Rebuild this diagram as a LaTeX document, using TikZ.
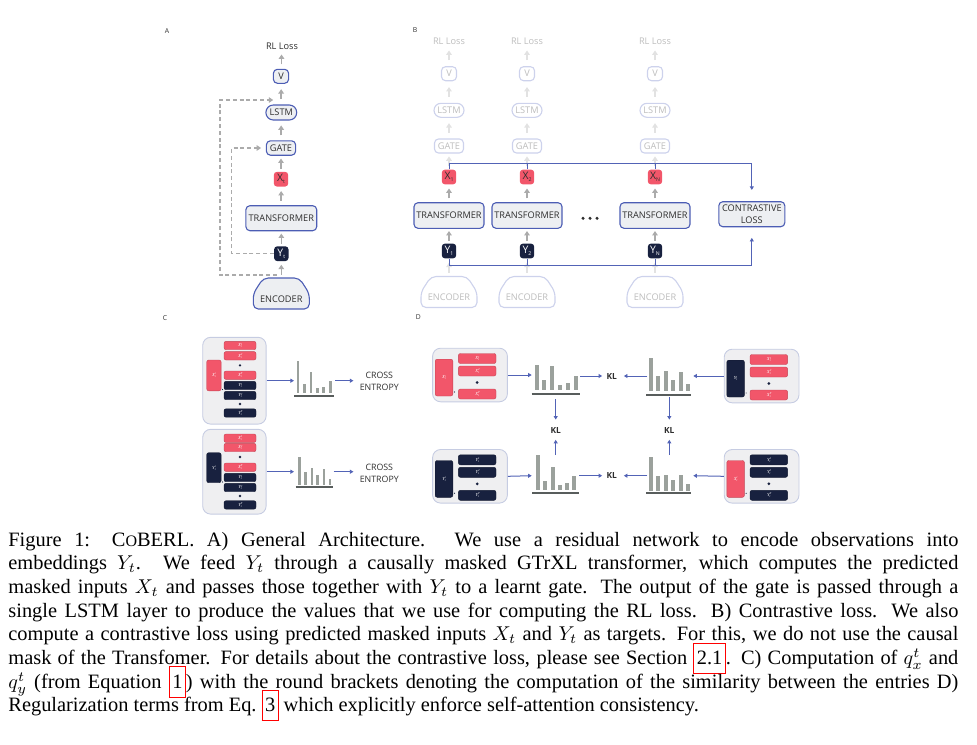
\documentclass[tikz,border=0pt]{standalone}
\usepackage{fontspec}
\setmainfont{Liberation Serif}
\newfontfamily\diafont{Open Sans}
\usetikzlibrary{arrows.meta,calc}

\definecolor{boxgray}{HTML}{EDEFF2}
\definecolor{bordblue}{HTML}{4C5DB4}
\definecolor{fadeblue}{HTML}{CDD2EC}
\definecolor{fadetxt}{HTML}{BDBDBD}
\definecolor{garrow}{HTML}{ABABAB}
\definecolor{fadearrow}{HTML}{E2E2E2}
\definecolor{xred}{HTML}{F2566A}
\definecolor{navy}{HTML}{18213F}
\definecolor{txtgray}{HTML}{2E2E2E}
\definecolor{lineblue}{HTML}{5263B6}
\definecolor{contgray}{HTML}{EFEFF1}
\definecolor{contline}{HTML}{C6CCE2}
\definecolor{histgray}{HTML}{9BA19C}
\definecolor{histbase}{HTML}{585D5C}

\newcommand{\lowsub}[1]{\raisebox{-1.1pt}{\fontsize{2.6}{3}\selectfont #1}}
\newcommand{\tl}[2]{{\fontsize{2.3}{2.5}\selectfont\itshape #1\rlap{\raisebox{0.9pt}{\fontsize{1.5}{1.8}\selectfont #2}}\raisebox{-0.5pt}{\fontsize{1.5}{1.8}\selectfont t}}}
\newcommand{\steparrow}[3][garr]{\draw[#1] ($#2!0.5!#3+(0,5)$) -- ++(0,-10);}
\newcommand{\reflink}[1]{\raisebox{0pt}[0pt][0pt]{\fboxsep=0pt\fboxrule=0.5pt\fcolorbox{red}{white}{\rule[-4.2pt]{0pt}{14.6pt}\kern1.2pt#1\kern1.2pt}}}
\newcommand{\capline}[1]{{\spaceskip=0pt\xspaceskip=0pt\makebox[475pt][s]{#1}}}

\tikzset{pics/encoder/.style n args={3}{code={
  \path[draw=#1, fill=#2, line width=0.55pt, rounded corners=2.5pt] (-18,-15.5) -- (18,-15.5) -- (28,0) -- (28,15.5) -- (-28,15.5) -- (-28,0) -- cycle;
  \coordinate (-top) at (0,-15.5);
  \node[text=#3, font=\diafont\fontsize{4.6}{5.4}\selectfont, inner sep=0pt] (-label) at (0,5.5) {ENCODER};
}}}

\begin{document}
\begin{tikzpicture}[x=0.5pt, y=-0.5pt,
  box/.style={draw=bordblue, fill=boxgray, line width=0.55pt, rounded corners=2pt, inner sep=0pt, text=txtgray, font=\diafont\fontsize{4.6}{5.8}\selectfont},
  fadebox/.style={box, draw=fadeblue, fill=white, text=fadetxt},
  lbl/.style={inner sep=0pt, text=txtgray, font=\diafont\fontsize{4.6}{5.8}\selectfont},
  xcell/.style={fill=xred, rounded corners=1.6pt, inner sep=0pt, minimum width=7.2pt, minimum height=7.4pt, text=txtgray, font=\diafont\fontsize{5.2}{6}\selectfont},
  ycell/.style={xcell, fill=navy, text=white},
  garr/.style={draw=garrow, line width=0.75pt, -{Triangle[width=2.8pt,length=2.2pt]}},
  fadearr/.style={garr, draw=fadearrow},
  gdash/.style={garr, line width=0.55pt, dash pattern=on 2pt off 1.4pt},
  bline/.style={draw=lineblue, line width=0.5pt},
  barr/.style={bline, -{Triangle[width=2pt,length=1.8pt]}},
  cont/.style={fill=contgray, draw=contline, line width=0.45pt, rounded corners=4pt, inner sep=0pt},
  cell/.style={fill=#1, draw=#1!80!black, line width=0.2pt, rounded corners=1pt, inner sep=0pt, text=white},
  hbar/.style={fill=histgray},
  hbase/.style={draw=histbase, line width=1pt},
  kl/.style={inner sep=0pt, text=txtgray, font=\diafont\bfseries\fontsize{4.2}{5}\selectfont},
  letter/.style={inner sep=0pt, text=txtgray, font=\diafont\fontsize{3.4}{4}\selectfont}]
	\useasboundingbox (0,0) rectangle (977,744);

	%PANEL A
	\node[letter] (labA) at (167,31) {A};
	\node[lbl] (rlA) at (282,46.5) {RL Loss};
	\node[box, minimum width=7.6pt, minimum height=7pt] (vA) at (281,76.3) {V};
	\node[box, minimum width=15.4pt, minimum height=7.5pt, rounded corners=3.7pt] (lstmA) at (281.3,112.5) {LSTM};
	\node[box, minimum width=14.6pt, minimum height=7.2pt] (gateA) at (281,148) {GATE};
	\node[xcell] (xA) at (281,179.2) {X\lowsub{t}};
	\node[box, minimum width=35.4pt, minimum height=12.5pt] (trA) at (281.3,218.2) {TRANSFORMER};
	\node[ycell] (yA) at (281.3,253.7) {Y\lowsub{t}};
	\pic (encA) at (281.3,293.5) {encoder={bordblue}{boxgray}{txtgray}};
	\steparrow{(vA.north)}{(rlA.south)}
	\steparrow{(lstmA.north)}{(vA.south)}
	\steparrow{(gateA.north)}{(lstmA.south)}
	\steparrow{(xA.north)}{(gateA.south)}
	\steparrow{(trA.north)}{(xA.south)}
	\steparrow{(yA.north)}{(trA.south)}
	\steparrow{(encA-top)}{(yA.south)}
	%skip connections
	\coordinate (tapA) at (277,275);
	\coordinate (lstmOutA) at (281,100);
	\draw[gdash, shorten >=3.9pt] (tapA) -- (220,275) |- (lstmOutA);
	\draw[gdash, shorten >=2.4pt] (yA.west) -- (231.7,253.7) |- (gateA.west);

	%PANEL B
	\node[letter] (labB) at (415,30) {B};
	\foreach \c/\n/\s in {449/1/1, 527/2/2, 655/3/N}{
		\node[lbl, text=fadetxt] (rlB\n) at (\c,41) {RL Loss};
		\node[fadebox, minimum width=7.5pt, minimum height=7pt] (vB\n) at (\c,73.7) {V};
		\node[fadebox, minimum width=15pt, minimum height=7pt, rounded corners=3.5pt] (lstmB\n) at (\c,110.3) {LSTM};
		\node[fadebox, minimum width=14.5pt, minimum height=7pt] (gateB\n) at (\c,146) {GATE};
		\node[xcell] (xB\n) at (\c,177) {X\lowsub{\s}};
		\node[box, minimum width=35pt, minimum height=12.8pt] (trB\n) at (\c,215.5) {TRANSFORMER};
		\node[ycell] (yB\n) at (\c,251) {Y\lowsub{\s}};
		\pic (encB\n) at (\c,292) {encoder={fadeblue}{white}{fadetxt}};
		\steparrow[fadearr]{(vB\n.north)}{(rlB\n.south)}
		\steparrow[fadearr]{(lstmB\n.north)}{(vB\n.south)}
		\steparrow[fadearr]{(gateB\n.north)}{(lstmB\n.south)}
		\steparrow[fadearr]{(xB\n.north)}{(gateB\n.south)}
		\steparrow[fadearr]{(encB\n-top)}{(yB\n.south)}
		\steparrow{(trB\n.north)}{(xB\n.south)}
		\steparrow{(yB\n.north)}{(trB\n.south)}
	}
	\fill[txtgray] (583,218.3) circle (0.85pt) (590,218.3) circle (0.85pt) (597,218.3) circle (0.85pt);
	\node[box, minimum width=33pt, minimum height=12.5pt, align=center] (ctrB) at (751.8,214.2) {CONTRASTIVE\\LOSS};
	\draw[barr, shorten >=5.6pt] (xB1.north) |- ($(ctrB.north)+(0,-37.7)$) -- (ctrB.north);
	\draw[bline] (xB2.north) -- ++(0,-6) (xB3.north) -- ++(0,-6);
	\draw[barr, shorten >=5.3pt] (yB1.south) |- ($(ctrB.south)+(0,38.3)$) -- (ctrB.south);
	\draw[bline] (yB2.south) -- ++(0,7) (yB3.south) -- ++(0,7);

	%PANEL C
	\node[letter] (labC) at (165,318.3) {C};
	\node[cont, minimum width=31.7pt, minimum height=43.4pt] (setCa) at (234.4,380.7) {};
	\node[cell=xred, minimum width=7.2pt, minimum height=15.4pt] (bigCa) at (213.9,375.4) {\tl{X}{i}};
	\foreach \yy/\cl/\sy/\sp [count=\i] in {345.5/xred/X/1, 355.8/xred/X/2, 375.2/xred/X/T, 385.5/navy/Y/1, 395.5/navy/Y/2, 413/navy/Y/T}
		\node[cell=\cl, minimum width=16pt, minimum height=4.2pt] (rowCa\i) at (240,\yy) {\tl{\sy}{\sp}};
	\fill[navy] (240,365.3) circle (0.65pt) (240,404) circle (0.65pt) (222.5,389.5) circle (0.3pt);
	\node[cont, minimum width=31.7pt, minimum height=42.4pt] (setCb) at (234.4,471.7) {};
	\node[cell=navy, minimum width=7.2pt, minimum height=15pt] (bigCb) at (213.9,467.7) {\tl{Y}{i}};
	\foreach \yy/\cl/\sy/\sp [count=\i] in {438.2/xred/X/1, 447.5/xred/X/2, 467.2/xred/X/T, 477.5/navy/Y/1, 487.5/navy/Y/2, 504.9/navy/Y/T}
		\node[cell=\cl, minimum width=16pt, minimum height=4.2pt] (rowCb\i) at (240,\yy) {\tl{\sy}{\sp}};
	\fill[navy] (240,457) circle (0.65pt) (240,496) circle (0.65pt) (222.5,482) circle (0.3pt);
	%histograms C
	\foreach \xx/\tt in {298/360.7, 304.3/384, 311/372.3, 317.3/388.3, 323.7/386.7, 330.3/380.7}
		\fill[hbar] (\xx-1.4,\tt) rectangle (\xx+1.4,392.7);
	\draw[hbase] (294,396) -- (334.3,396);
	\foreach \xx/\tt in {299.3/456.7, 305.7/471.7, 312/467.7, 317.7/475, 324/469, 330/479.3}
		\fill[hbar] (\xx-1.4,\tt) rectangle (\xx+1.4,484.7);
	\draw[hbase] (295.7,487.3) -- (333.3,487.3);
	\coordinate (hCaIn) at (294,380.7); \coordinate (hCaOut) at (335,380.7);
	\coordinate (hCbIn) at (294,471.7); \coordinate (hCbOut) at (333.5,471.7);
	\node[lbl, align=center, font=\diafont\fontsize{4.4}{5.8}\selectfont] (ceCa) at (379.3,381.5) {CROSS\\ENTROPY};
	\node[lbl, align=center, font=\diafont\fontsize{4.4}{5.8}\selectfont] (ceCb) at (379.3,473.5) {CROSS\\ENTROPY};
	\draw[barr] (setCa.east) -- (hCaIn);
	\draw[barr, shorten >=3pt] (hCaOut) -- (hCaOut -| ceCa.west);
	\draw[barr] (setCb.east) -- (hCbIn);
	\draw[barr, shorten >=3pt] (hCbOut) -- (hCbOut -| ceCb.west);

	%PANEL D
	\node[letter] (labD) at (418.3,317.3) {D};
	\foreach \n/\cx/\cy/\bc/\bl/\rc/\rl in {1/470/375/xred/X/xred/X, 2/761.6/376/navy/Y/xred/X, 3/470/476.3/navy/Y/navy/Y, 4/761.6/476.3/xred/X/navy/Y}{
		\node[cont, minimum width=37.4pt, minimum height=26.8pt] (setD\n) at (\cx,\cy) {};
		\node[cell=\bc, minimum width=8.8pt, minimum height=18.4pt] (bigD\n) at (\cx-26,\cy+2.6) {\tl{\bl}{i}};
		\node[cell=\rc, minimum width=18.8pt, minimum height=5pt] (rowD\n a) at (\cx+7.2,\cy-16.5) {\tl{\rl}{1}};
		\node[cell=\rc, minimum width=18.8pt, minimum height=5pt] (rowD\n b) at (\cx+7.2,\cy-4) {\tl{\rl}{2}};
		\node[cell=\rc, minimum width=18.8pt, minimum height=5pt] (rowD\n c) at (\cx+7.2,\cy+19) {\tl{\rl}{T}};
		\fill[navy] (\cx+7.2,\cy+7.5) circle (0.75pt) (\cx-15.5,\cy+17) circle (0.3pt);
	}
	%histograms D
	\foreach \xx/\tt in {536.7/365, 544.3/380, 552.3/366, 560/385, 567.7/383.3, 575.7/375.7}
		\fill[hbar] (\xx-2,\tt) rectangle (\xx+2,390);
	\draw[hbase] (531.7,394) -- (580,394);
	\foreach \xx/\tt in {650.7/357.7, 658.3/375.7, 666/371, 673.3/380, 681/371.7, 687.7/384}
		\fill[hbar] (\xx-2,\tt) rectangle (\xx+2,391);
	\draw[hbase] (646,395) -- (690.7,395);
	\foreach \xx/\tt in {537.7/455, 545/480.7, 552.7/466.7, 560/485, 567.3/483.3, 574.3/476}
		\fill[hbar] (\xx-2,\tt) rectangle (\xx+2,490);
	\draw[hbase] (532,492.7) -- (579,492.7);
	\foreach \xx/\tt in {651/457.3, 658.3/475.7, 666/475, 673.3/480, 680.7/475, 687.7/484}
		\fill[hbar] (\xx-2,\tt) rectangle (\xx+2,490.5);
	\draw[hbase] (646,493.3) -- (691,493.3);
	\coordinate (hDaIn) at (531.7,375); \coordinate (hDaOut) at (580,376); \coordinate (hDaBot) at (555.7,399.3);
	\coordinate (hDbIn) at (693.3,376); \coordinate (hDbOut) at (647.3,376); \coordinate (hDbBot) at (669.3,397.3);
	\coordinate (hDcIn) at (531.7,475.7); \coordinate (hDcOut) at (579.3,475.7); \coordinate (hDcTop) at (555.7,455);
	\coordinate (hDdIn) at (693.3,475.7); \coordinate (hDdOut) at (647.3,475.7); \coordinate (hDdTop) at (669.3,455);
	\node[kl] (klT) at (611.7,376) {KL};
	\node[kl] (klB) at (611.7,475.7) {KL};
	\node[kl] (klL) at (555.7,430) {KL};
	\node[kl] (klR) at (669.3,430) {KL};
	\draw[barr] (setD1.east) -- (hDaIn);
	\draw[barr, shorten >=2pt] (hDaOut) -- (klT.west);
	\draw[barr, shorten >=3.3pt] (hDbOut) -- (klT.east);
	\draw[barr] (setD2.west) -- (hDbIn);
	\draw[barr] (setD3.east) -- (hDcIn);
	\draw[barr, shorten >=2pt] (hDcOut) -- (klB.west);
	\draw[barr, shorten >=3.3pt] (hDdOut) -- (klB.east);
	\draw[barr] (setD4.west) -- (hDdIn);
	\draw[barr, shorten >=3.5pt] (hDaBot) -- (klL.north);
	\draw[barr, shorten >=3.2pt] (hDcTop) -- (klL.south);
	\draw[barr, shorten >=3.5pt] (hDbBot) -- (klR.north);
	\draw[barr, shorten >=3.2pt] (hDdTop) -- (klR.south);

	%CAPTION
	\node[anchor=north west, inner sep=0pt, text width=480pt, align=left, font=\fontsize{10.2}{11.85}\selectfont] (caption) at (8,531.5) {%
		\capline{Figure 1: C{\fontsize{8}{9}\selectfont O}BERL. A) General Architecture. We use a residual network to encode observations into}\\
		\capline{embeddings $Y_t$. We feed $Y_t$ through a causally masked GTrXL transformer, which computes the predicted}\\
		\capline{masked inputs $X_t$ and passes those together with $Y_t$ to a learnt gate. The output of the gate is passed through a}\\
		\capline{single LSTM layer to produce the values that we use for computing the RL loss. B) Contrastive loss. We also}\\
		\capline{compute a contrastive loss using predicted masked inputs $X_t$ and $Y_t$ as targets. For this, we do not use the causal}\\
		\capline{mask of the Transfomer. For details about the contrastive loss, please see Section \reflink{2.1}. C) Computation of $q_x^t$ and}\\
		\capline{$q_y^t$ (from Equation \reflink{1}) with the round brackets denoting the computation of the similarity between the entries D)}\\
		{\spaceskip=0pt\xspaceskip=0pt Regularization terms from Eq.\ \reflink{3} which explicitly enforce self-attention consistency.}};
\end{tikzpicture}
\end{document}
